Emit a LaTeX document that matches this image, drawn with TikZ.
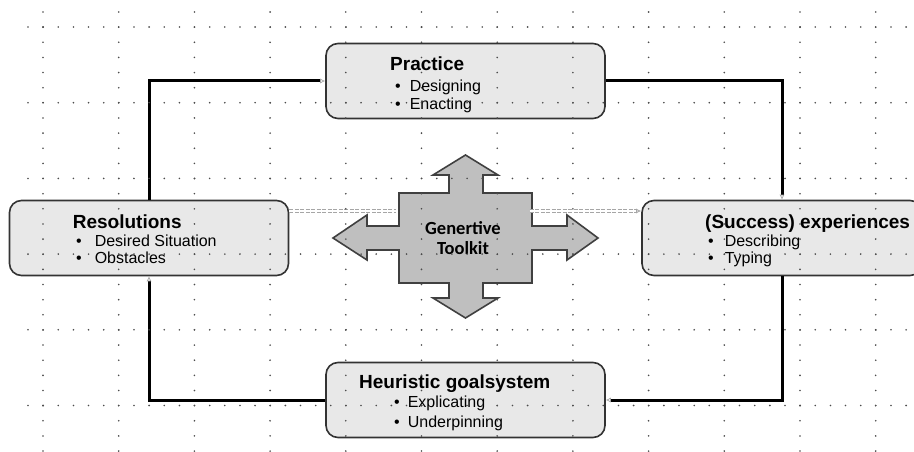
\documentclass[tikz,border=0pt]{standalone}
\usepackage{fontspec}
\setmainfont{Liberation Sans}
\newfontfamily\tkfont{Carlito}
\usetikzlibrary{arrows.meta}

\tikzset{
  stage/.style={draw=black!80, line width=1.6pt, fill=black!9, rounded corners=12pt,
    inner sep=0pt, minimum width=279pt, minimum height=75pt},
  heading/.style={anchor=base west, inner sep=0pt, font=\fontsize{19}{21}\selectfont\bfseries},
  entry/.style={anchor=base west, inner sep=0pt, font=\fontsize{16}{18}\selectfont},
  link/.style={line width=3pt, -{Latex[open, length=5pt, width=5pt, line width=0.7pt, color=black!35]}},
  chain/.style={draw=black!35, line width=0.8pt, double distance=2.6pt, dash pattern=on 4pt off 1.5pt},
  griddot/.style={fill=black!70},
}

\begin{document}
\begin{tikzpicture}[x=1pt, y=-1pt]
  \useasboundingbox (0,0) rectangle (914,452);
  \clip (0,0) rectangle (914,452);
  \fill[white] (0,0) rectangle (914,452);

  % the four stages
  \node[stage] (prac) at (465.5,81) {};
  \node[stage] (res) at (149,238) {};
  \node[stage, minimum width=280pt] (succ) at (782,238) {};
  \node[stage] (heur) at (465.5,400) {};

  % the toolkit in the middle
  \draw[fill=black!25, draw=black!75, line width=1.6pt, line join=miter]
    (465.5,155) -- (498,175) -- (483,175) -- (483,193) -- (532,193) -- (532,226)
    -- (567,226) -- (567,215) -- (598,238) -- (567,260) -- (567,250) -- (532,250)
    -- (532,283) -- (483,283) -- (483,298) -- (498,298) -- (465.5,318) -- (433,298)
    -- (449,298) -- (449,283) -- (399,283) -- (399,250) -- (367,250) -- (367,260)
    -- (333,238) -- (367,215) -- (367,226) -- (399,226) -- (399,193) -- (449,193)
    -- (449,175) -- (433,175) -- cycle;
  \node[align=center, inner sep=0pt, minimum width=133pt, minimum height=90pt,
    font=\tkfont\fontsize{18.5}{20}\selectfont\bfseries] (tk) at (463,238) {Genertive\\Toolkit};

  % texts
  \node[heading] (pracT) at (390,71) {Practice};
  \node[entry] (pracA) at (395,92) {\textbullet\hspace{9pt}Designing};
  \node[entry] (pracB) at (395,110) {\textbullet\hspace{9pt}Enacting};

  \node[heading] (resT) at (72.7,228) {Resolutions};
  \node[entry] (resA) at (76,246) {\textbullet\hspace{13pt}Desired Situation};
  \node[entry] (resB) at (76,263.5) {\textbullet\hspace{13pt}Obstacles};

  \node[heading] (succT) at (705,228) {(Success) experiences};
  \node[entry] (succA) at (708,246) {\textbullet\hspace{11pt}Describing};
  \node[entry] (succB) at (708,263.5) {\textbullet\hspace{11pt}Typing};

  \node[heading] (heurT) at (359,388) {Heuristic goalsystem};
  \node[entry] (heurA) at (394,407) {\textbullet\hspace{8pt}Explicating};
  \node[entry] (heurB) at (394,427) {\textbullet\hspace{8pt}Underpinning};

  % cycle
  \draw[link] (res.north) |- (prac.west);
  \draw[link] (prac.east) -| (succ.north);
  \draw[link] (succ.south) |- (heur.east);
  \draw[link] (heur.west) -| (res.south);

  % toolkit links
  \draw[chain] ([yshift=27pt]res.east) -- ([yshift=27pt]tk.west);
  \draw[chain, -{Latex[open, length=5pt, width=5pt, color=black!35]}]
    ([yshift=27pt]tk.east) -- ([yshift=27pt]succ.west);

  % dotted grid
  \foreach \i in {0,...,11}
    \foreach \j in {0,...,29}
      \fill[griddot] ({43+75.7*\i},{12+15.14*\j}) circle (0.9pt);
  \foreach \k in {0,...,5}
    \foreach \j in {0,...,58}
      \fill[griddot] ({28+15.14*\j},{27+75.7*\k}) circle (0.9pt);
\end{tikzpicture}
\end{document}
